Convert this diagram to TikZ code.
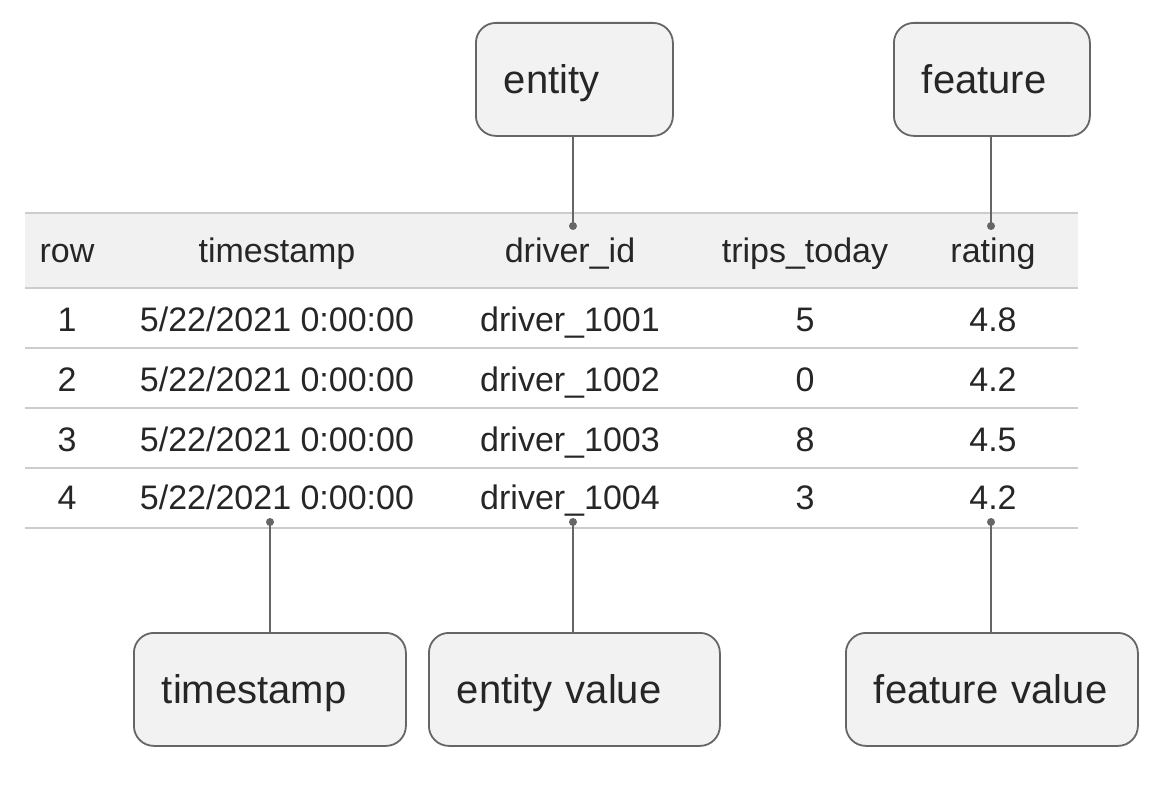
\documentclass[tikz,border=0pt]{standalone}
\usepackage{fontspec}
\setmainfont{Liberation Sans}
\usepackage{xcolor}
\definecolor{inkGray}{HTML}{262626}
\definecolor{edgeGray}{HTML}{666666}
\definecolor{ruleGray}{HTML}{CCCCCC}
\definecolor{bandGray}{HTML}{F1F1F1}
\definecolor{boxFill}{HTML}{F2F2F2}
\tikzset{cell/.style = {text=inkGray, font=\fontsize{34}{34}\selectfont, anchor=base, inner sep=0pt}}
\tikzset{tag/.style = {rectangle, rounded corners=20pt, draw=edgeGray, line width=1.8pt, fill=boxFill, text=inkGray, font=\fontsize{40}{40}\selectfont, anchor=north west, inner ysep=0pt, text height=71pt, text depth=42pt, inner xsep=28pt, align=left, text width=#1}}
\tikzset{rule/.style = {draw=ruleGray, line width=2pt}}
\tikzset{link/.style = {draw=edgeGray, line width=1.8pt}}
\tikzset{dot/.style = {fill=edgeGray}}

\begin{document}
\begin{tikzpicture}[x=1pt, y=-1pt]
        \useasboundingbox (0,0) rectangle (1174,784);
        % header band and rules
        \fill[bandGray] (25,213) rectangle (1078,288);
        \foreach \yy in {213, 288, 348, 408, 468, 528}
            \draw[rule] (25,\yy) -- (1078,\yy);
        % header
        \node(hRow) [cell] at (67,262) {row};
        \node(hTs) [cell] at (277,262) {timestamp};
        \node(hId) [cell] at (570,262) {driver\_id};
        \node(hTrips) [cell] at (805,262) {trips\_today};
        \node(hRating) [cell] at (993,262) {rating};
        % rows
        \foreach \n/\yy/\trips/\rate in {1/331/5/4.8, 2/391/0/4.2, 3/451/8/4.5, 4/509/3/4.2} {
            \node(row\n) [cell] at (67,\yy) {\n};
            \node(ts\n) [cell] at (277,\yy) {5/22/2021 0:00:00};
            \node(id\n) [cell] at (570,\yy) {driver\_100\n};
            \node(trips\n) [cell] at (805,\yy) {\trips};
            \node(rt\n) [cell] at (993,\yy) {\rate};
        }
        % labels
        \node(entity) [tag=141pt] at (475,22) {entity};
        \node(feature) [tag=140pt] at (893,22) {feature};
        \node(tsTag) [tag=216pt] at (133,632) {timestamp};
        \node(entVal) [tag=235pt] at (428,632) {entity value};
        \node(featVal) [tag=236pt] at (845,632) {feature value};
        % pins
        \coordinate(pEntity) at (573,226);
        \coordinate(pFeature) at (991,226);
        \coordinate(pTs) at (270,522);
        \coordinate(pEntVal) at (573,522);
        \coordinate(pFeatVal) at (991,522);
        \draw[link] (entity.south -| pEntity) -- (pEntity);
        \draw[link] (feature.south -| pFeature) -- (pFeature);
        \draw[link] (tsTag.north -| pTs) -- (pTs);
        \draw[link] (entVal.north -| pEntVal) -- (pEntVal);
        \draw[link] (featVal.north -| pFeatVal) -- (pFeatVal);
        \foreach \p in {pEntity, pFeature, pTs, pEntVal, pFeatVal}
            \fill[dot] (\p) circle (4pt);
    \end{tikzpicture}
\end{document}
